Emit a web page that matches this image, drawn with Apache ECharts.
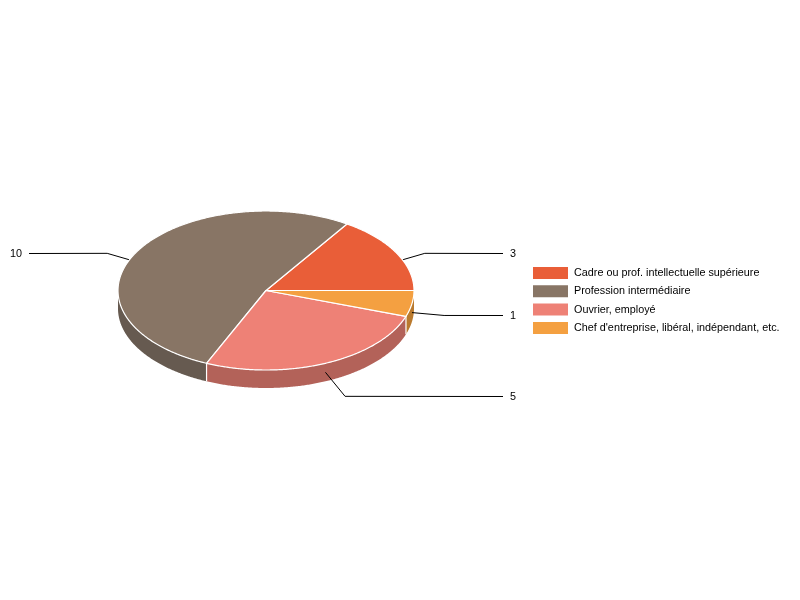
<!DOCTYPE html>
<html>
<head>
<meta charset="utf-8">
<style>html,body{margin:0;padding:0;background:#fff}#c{width:800px;height:600px}</style>
<script src="https://cdn.jsdelivr.net/npm/echarts@6/dist/echarts.min.js"></script>
</head>
<body>
<div id="c"></div>
<script>
const categories = ["Cadre ou prof. intellectuelle supérieure", "Profession intermédiaire", "Ouvrier, employé", "Chef d'entreprise, libéral, indépendant, etc."];
const values = [3, 10, 5, 1];
const topColors = ["#E95E38", "#887565", "#EE8176", "#F4A041"];
const sideColors = ["#A34227", "#665A50", "#B36259", "#BA7A2E"];
const kneeScales = [1.22, 1.22, 1.33, 1.22];

const CX = 266, CY = 290.5, RX = 148, RY = 79.5, DEPTH = 18;
const total = values.reduce((a, b) => a + b, 0);
const FONT = "Arial, 'Liberation Sans', sans-serif";

function pt(deg, dy) {
  const r = deg * Math.PI / 180;
  return [CX + RX * Math.cos(r), CY + (dy || 0) - RY * Math.sin(r)];
}
function arc(a, b, dy) {
  const n = Math.max(2, Math.ceil(Math.abs(b - a) * 2));
  const out = [];
  for (let i = 0; i <= n; i++) out.push(pt(a + (b - a) * i / n, dy));
  return out;
}
function sliceRange(i) {
  let s = 0;
  for (let k = 0; k < i; k++) s += values[k];
  return [s / total * 360, (s + values[i]) / total * 360];
}
function renderSlice(params, api) {
  const i = params.seriesIndex;
  const [a, b] = sliceRange(i);
  const children = [];
  // side wall (front half only)
  const fa = Math.max(a, 180), fb = Math.min(b, 360);
  if (fb > fa) {
    const pts = arc(fa, fb, 0).concat(arc(fb, fa, DEPTH));
    children.push({ type: 'polygon', z2: 1, shape: { points: pts }, style: { fill: sideColors[i], stroke: null } });
    if (a > 180) {
      const p = pt(a, 0);
      children.push({ type: 'line', z2: 1.5, shape: { x1: p[0], y1: p[1], x2: p[0], y2: p[1] + DEPTH }, style: { stroke: '#fff', lineWidth: 1.2 } });
    }
  }
  // leader line: from the mid-angle on the mid-depth ellipse out to a knee, then level to the label
  const mid = (a + b) / 2;
  const anchor = pt(mid, DEPTH / 2);
  const k = kneeScales[i];
  const knee = [CX + (anchor[0] - CX) * k, CY + DEPTH / 2 + (anchor[1] - CY - DEPTH / 2) * k];
  const right = anchor[0] >= CX;
  const endX = right ? 503 : 29;
  children.push({ type: 'polyline', z2: 2, shape: { points: [anchor, knee, [endX, Math.round(knee[1]) + 0.5]] }, style: { stroke: '#000', lineWidth: 1, fill: null } });
  children.push({
    type: 'text', z2: 2,
    style: { text: String(api.value(0)), x: right ? 510 : 22, y: knee[1] + 0.5, align: right ? 'left' : 'right', verticalAlign: 'middle', fill: '#000', font: '10.8px ' + FONT }
  });
  // top face
  const top = [[CX, CY]].concat(arc(a, b, 0));
  children.push({ type: 'polygon', z2: 3, shape: { points: top }, style: { fill: topColors[i], stroke: '#fff', lineWidth: 1.2, lineJoin: 'round' } });
  return { type: 'group', children };
}

const chart = echarts.init(document.getElementById('c'), null, { renderer: 'canvas' });
chart.setOption({
  animation: false,
  backgroundColor: '#fff',
  legend: {
    orient: 'vertical', left: 533, top: 267,
    itemWidth: 35, itemHeight: 12, itemGap: 6.3, padding: 0,
    icon: 'rect', selectedMode: false,
    data: categories,
    textStyle: { color: '#000', fontSize: 10.8, fontFamily: FONT, padding: [0, 0, 0, 1], lineHeight: 12 }
  },
  series: categories.map((name, i) => ({
    type: 'custom',
    name,
    coordinateSystem: 'none',
    silent: true,
    itemStyle: { color: topColors[i] },
    data: [values[i]],
    renderItem: renderSlice
  }))
});
</script>
</body>
</html>
